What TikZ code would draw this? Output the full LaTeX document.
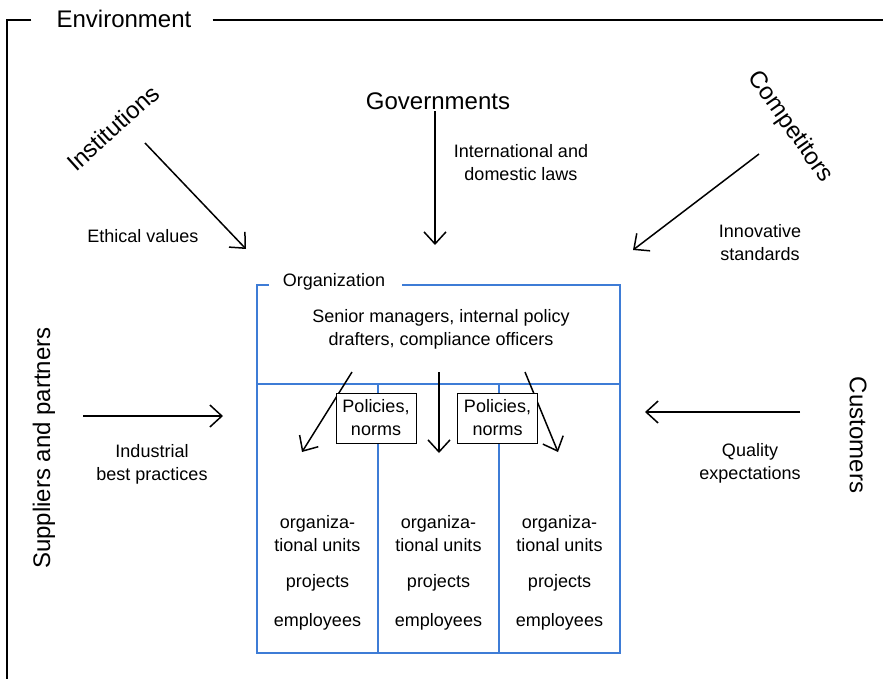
\documentclass[tikz,border=0pt]{standalone}
\usepackage{fontspec}
\setmainfont{Liberation Sans}
\usetikzlibrary{positioning, arrows.meta}
\definecolor{orgblue}{RGB}{62,124,214}

\begin{document}
\begin{tikzpicture}[
      x=1pt, y=-1pt,
      actor_var/.style={font=\fontsize{24}{28}\selectfont, inner sep=0pt},
      flow_label/.style={font=\fontsize{18}{23}\selectfont, align=center, inner sep=0pt},
      edge_path/.style={-{Straight Barb[length=12pt, width=22pt]}, line width=1.5pt},
      frame_line/.style={line width=2pt},
      org_line/.style={draw=orgblue, line width=2pt},
      policy_box/.style={draw, fill=white, line width=1pt, minimum width=80pt,
        minimum height=50pt, inner sep=0pt, align=center, font=\fontsize{18}{23}\selectfont}
    ]
      \useasboundingbox (0,0) rectangle (883,678);

      % environment frame
      \node[actor_var] (env) at (124,19) {Environment};
      \coordinate (frame_nw) at (7,20);
      \coordinate (frame_sw) at (7,700);
      \coordinate (frame_ne) at (900,20);
      \draw[frame_line] ([xshift=-25pt]env.west |- frame_nw) -- (frame_nw) -- (frame_sw);
      \draw[frame_line] ([xshift=21pt]env.east |- frame_nw) -- (frame_ne);

      % outside actors
      \node[actor_var, rotate=42] (inst) at (113,128) {Institutions};
      \node[actor_var] (gov) at (438,101) {Governments};
      \node[actor_var, rotate=-55] (comp) at (790,127) {Competitors};
      \node[actor_var, rotate=90] (supp) at (44,448) {Suppliers and partners};
      \node[actor_var, rotate=-90] (cust) at (858,435) {Customers};

      \node[flow_label] (ethics) at (143,236) {Ethical values};
      \node[flow_label] (laws) at (521,163) {International and\\domestic laws};
      \node[flow_label] (innov) at (760,243) {Innovative\\standards};
      \node[flow_label] (industry) at (152,464) {Industrial\\best practices};
      \node[flow_label] (quality) at (750,463) {Quality\\expectations};

      \coordinate (inst_from) at (145,143);
      \coordinate (inst_to) at (246,249);
      \coordinate (gov_from) at (435,111);
      \coordinate (gov_to) at (435,245);
      \coordinate (comp_from) at (759,154);
      \coordinate (comp_to) at (633,250);
      \coordinate (supp_from) at (83,416);
      \coordinate (supp_to) at (223,416);
      \coordinate (cust_from) at (800,412);
      \coordinate (cust_to) at (645,412);

      \draw[edge_path] (inst_from) -- (inst_to);
      \draw[edge_path] (gov_from) -- (gov_to);
      \draw[edge_path] (comp_from) -- (comp_to);
      \draw[edge_path] (supp_from) -- (supp_to);
      \draw[edge_path] (cust_from) -- (cust_to);

      % organization box
      \node[flow_label] (org) at (334,282) {Organization};
      \coordinate (org_nw) at (257,285);
      \coordinate (org_se) at (620,653);
      \draw[org_line] ([xshift=-14pt]org.west |- org_nw) -- (org_nw) |- (org_se)
        |- ([xshift=17pt]org.east |- org_nw);
      \coordinate (split_w) at (257,384);
      \coordinate (split_e) at (620,384);
      \draw[org_line] (split_w) -- (split_e);
      \draw[org_line] (378,384) -- (378,653);
      \draw[org_line] (499,384) -- (499,653);

      \node[flow_label] (senior) at (441,329) {Senior managers, internal policy\\drafters, compliance officers};

      \foreach \col/\cx in {a/317.5, b/438.5, c/559.5} {
        \node[flow_label] (units_\col) at (\cx,534) {organiza-\\tional units};
        \node[flow_label] (proj_\col) at (\cx,583) {projects};
        \node[flow_label] (empl_\col) at (\cx,622) {employees};
      }

      % policies handed down to the units
      \coordinate (down_a_from) at (352,372);
      \coordinate (down_a_to) at (302,452);
      \coordinate (down_b_from) at (439,372);
      \coordinate (down_b_to) at (439,453);
      \coordinate (down_c_from) at (525,372);
      \coordinate (down_c_to) at (558,452);
      \draw[edge_path] (down_a_from) -- (down_a_to);
      \draw[edge_path] (down_b_from) -- (down_b_to);
      \draw[edge_path] (down_c_from) -- (down_c_to);

      \node[policy_box] (pol_a) at (376,418) {Policies,\\norms};
      \node[policy_box] (pol_b) at (497.5,418) {Policies,\\norms};
    \end{tikzpicture}
\end{document}
